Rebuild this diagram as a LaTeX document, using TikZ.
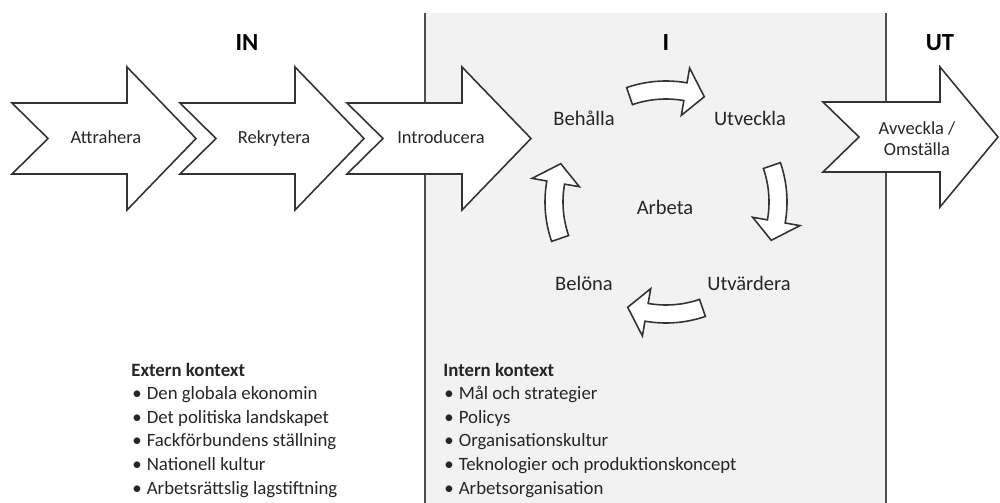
\documentclass[tikz,border=0pt]{standalone}
\usepackage{fontspec}
\setmainfont{Carlito}
\definecolor{boxgrau}{HTML}{F2F2F2}
\definecolor{linjegrau}{HTML}{4D4D4D}
\definecolor{kantgrau}{HTML}{333333}
\definecolor{textgrau}{HTML}{262626}
\newcommand{\pkt}{\makebox[0.29cm][l]{•}}

\begin{document}
\begin{tikzpicture}[x=0.02cm, y=-0.02cm,
    pil/.style={draw=kantgrau, fill=white, line width=0.9pt, line join=miter},
    kurvpil/.style={draw=kantgrau, fill=white, line width=0.9pt},
    etikett/.style={font=\fontsize{10.5}{12}\selectfont, text=textgrau, align=center},
    steg/.style={font=\fontsize{11.7}{14}\selectfont, text=textgrau, text height=1.5ex, text depth=0.3ex},
    rubrik/.style={font=\fontsize{14}{16}\selectfont\bfseries, text=black},
    lista/.style={font=\fontsize{10.7}{13}\selectfont, text=textgrau, anchor=base west, inner sep=0pt}]
  \useasboundingbox (0,0) rectangle (1000,503);
  % den gra rutan (I)
  \fill[boxgrau] (425,13) rectangle (886,503);
  \draw[linjegrau, line width=1.6pt] (425,13) -- (425,503);
  \draw[linjegrau, line width=1.6pt] (886,13) -- (886,503);
  % rubriker
  \node[rubrik] (in) at (247,43) {IN};
  \node[rubrik] (i) at (666,43) {I};
  \node[rubrik] (ut) at (940,43) {UT};
  % pilar IN
  \foreach \x/\namn/\txt in {12/attr/Attrahera, 180/rekr/Rekrytera, 347/intro/Introducera}{
    \draw[pil] (\x,103) -- (\x+115,103) -- (\x+115,67) -- (\x+184,138.5) -- (\x+115,210)
      -- (\x+115,174) -- (\x,174) -- (\x+36,138.5) -- cycle;
    \node[etikett, text height=1.5ex, text depth=0.3ex] (\namn) at (\x+94,138.5) {\txt};
  }
  % pil UT
  \draw[pil] (823,102) -- (940,102) -- (940,67) -- (998,137) -- (940,207) -- (940,172)
    -- (823,172) -- (859,137) -- cycle;
  \node[etikett] (avv) at (917,139) {Avveckla /\\Omställa};
  % cykeln
  \node[steg] (behalla) at (584,120) {Behålla};
  \node[steg] (utveckla) at (750,120) {Utveckla};
  \node[steg] (arbeta) at (665,209) {Arbeta};
  \node[steg] (belona) at (584,285) {Belöna};
  \node[steg] (utvardera) at (749,285) {Utvärdera};
  \foreach \r in {0,-90,-180,-270}
    \draw[kurvpil, shift={(666,202)}, rotate=\r, yscale=-1]
      (109:103) arc[start angle=109, end angle=80, radius=103] -- (80:88) -- (70:112)
      -- (80:136) -- (80:121) arc[start angle=80, end angle=109, radius=121] -- cycle;
  % extern kontext
  \node[lista] (extern) at (131,376) {\bfseries Extern kontext};
  \foreach \t [count=\i] in {Den globala ekonomin, Det politiska landskapet,
      Fackförbundens ställning, Nationell kultur, Arbetsrättslig lagstiftning}
    \node[lista] (ext\i) at (132,376+23.6*\i) {\pkt\t};
  % intern kontext
  \node[lista] (intern) at (443,376) {\bfseries Intern kontext};
  \foreach \t [count=\i] in {Mål och strategier, Policys, Organisationskultur,
      Teknologier och produktionskoncept, Arbetsorganisation}
    \node[lista] (int\i) at (444,376+23.6*\i) {\pkt\t};
\end{tikzpicture}
\end{document}
